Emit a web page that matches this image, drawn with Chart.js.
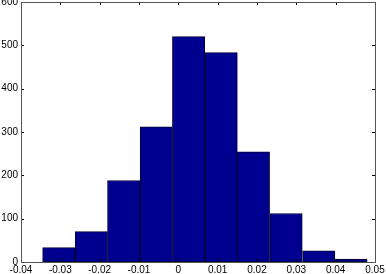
<!DOCTYPE html>
<html>
<head>
<meta charset="utf-8">
<script src="https://cdn.jsdelivr.net/npm/chart.js@4"></script>
<style>
  html, body { margin: 0; padding: 0; background: #fff; }
  #wrap { width: 386px; height: 274px; }
</style>
</head>
<body>
<div id="wrap"><canvas id="hist"></canvas></div>
<script>
// histogram bins (centres) and counts
const binCenters = [-0.0304, -0.0221, -0.0139, -0.0056, 0.0026, 0.0109, 0.0191, 0.0274, 0.0357, 0.0439];
const counts = [33, 70, 188, 312, 520, 483, 254, 112, 26, 7];
const xRange = [-0.04, 0.05];
const yRange = [0, 600];

// MATLAB-style box with inward tick marks on all four sides
const boxTicks = {
  id: 'boxTicks',
  afterDraw(chart) {
    const { ctx, chartArea: a, scales: { x, y } } = chart;
    const len = 3;
    ctx.save();
    ctx.strokeStyle = '#000';
    ctx.lineWidth = 1;
    ctx.beginPath();
    x.ticks.forEach(t => {
      const px = Math.round(x.getPixelForValue(t.value)) + 0.5;
      ctx.moveTo(px, a.bottom); ctx.lineTo(px, a.bottom - len);
      ctx.moveTo(px, a.top); ctx.lineTo(px, a.top + len);
    });
    y.ticks.forEach(t => {
      const py = Math.round(y.getPixelForValue(t.value)) + 0.5;
      ctx.moveTo(a.left, py); ctx.lineTo(a.left + len, py);
      ctx.moveTo(a.right, py); ctx.lineTo(a.right - len, py);
    });
    ctx.stroke();
    ctx.strokeStyle = '#555';
    ctx.strokeRect(Math.round(a.left) + 0.5, Math.round(a.top) + 0.5,
      Math.round(a.right - a.left), Math.round(a.bottom - a.top));
    ctx.restore();
  }
};

new Chart(document.getElementById('hist'), {
  type: 'bar',
  data: {
    datasets: [{
      data: binCenters.map((c, i) => ({ x: c, y: counts[i] })),
      backgroundColor: '#00008F',
      borderColor: '#000033',
      borderWidth: 1,
      borderSkipped: false,
      barPercentage: 1,
      categoryPercentage: 1
    }]
  },
  options: {
    responsive: true,
    maintainAspectRatio: false,
    animation: false,
    layout: { padding: { top: 2, right: 11, left: 0, bottom: 0 } },
    plugins: { legend: { display: false }, tooltip: { enabled: false } },
    scales: {
      x: {
        type: 'linear',
        offset: false,
        min: xRange[0], max: xRange[1],
        grid: { display: false, drawTicks: false },
        border: { display: false },
        ticks: {
          stepSize: 0.01,
          maxRotation: 0,
          padding: 2,
          color: '#000',
          font: { family: 'Liberation Sans', size: 10 },
          callback: v => String(Number(v.toFixed(2)))
        },
        afterFit: s => { s.height = 12; s.paddingLeft = 0; s.paddingRight = 0; }
      },
      y: {
        min: yRange[0], max: yRange[1],
        grid: { display: false, drawTicks: false },
        border: { display: false },
        ticks: {
          stepSize: 100,
          padding: 3,
          color: '#000',
          font: { family: 'Liberation Sans', size: 10 }
        },
        afterFit: s => { s.width = 21; s.paddingTop = 0; s.paddingBottom = 0; }
      }
    }
  },
  plugins: [boxTicks]
});
</script>
</body>
</html>
